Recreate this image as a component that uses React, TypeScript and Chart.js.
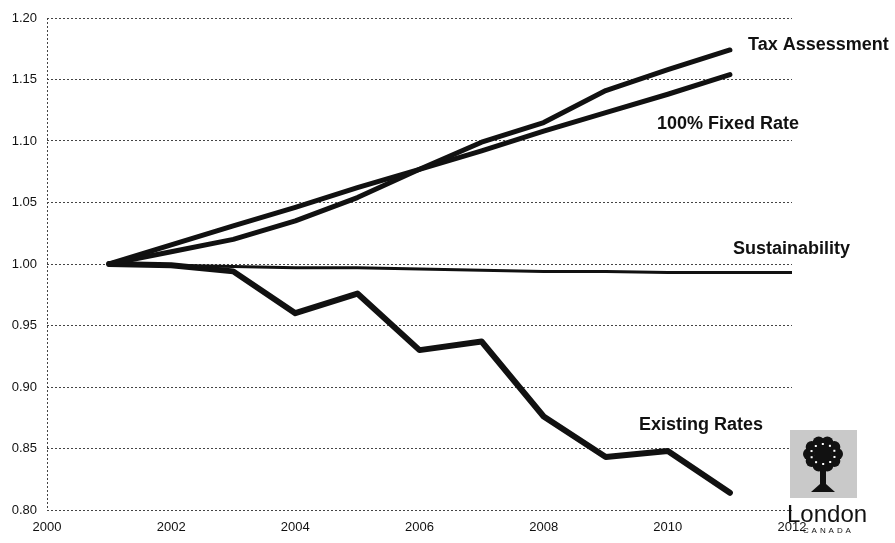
import React, { useEffect, useRef } from "react";
import { Chart, registerables } from "chart.js";

Chart.register(...registerables);

const years = [2001, 2002, 2003, 2004, 2005, 2006, 2007, 2008, 2009, 2010, 2011];
const taxAssessment = [1.0, 1.01, 1.02, 1.035, 1.054, 1.077, 1.099, 1.115, 1.141, 1.158, 1.174];
const fixedRate = [1.0, 1.0155, 1.031, 1.046, 1.062, 1.077, 1.092, 1.108, 1.123, 1.138, 1.154];
const existingRates = [1.0, 0.999, 0.994, 0.96, 0.976, 0.93, 0.937, 0.876, 0.843, 0.848, 0.814];
const sustainYears = [2001, 2002, 2003, 2004, 2005, 2006, 2007, 2008, 2009, 2010, 2011, 2012];
const sustainability = [1.0, 0.999, 0.998, 0.997, 0.997, 0.996, 0.995, 0.994, 0.994, 0.993, 0.993, 0.993];

const seriesLabels = ["Tax Assessment", "100% Fixed Rate", "Sustainability", "Existing Rates"];

const pts = (xs: number[], ys: number[]) => xs.map((x, i) => ({ x, y: ys[i] }));

const annotations = {
  id: "annotations",
  beforeDatasetsDraw(chart: any) {
    const ctx = chart.ctx;
    const a = chart.chartArea;
    ctx.save();
    ctx.strokeStyle = "#444";
    ctx.lineWidth = 1;
    ctx.setLineDash([2, 2]);
    ctx.beginPath();
    ctx.moveTo(a.left + 0.5, a.top);
    ctx.lineTo(a.left + 0.5, a.bottom);
    ctx.stroke();
    ctx.restore();
  },
  afterDraw(chart: any) {
    const ctx = chart.ctx;
    ctx.save();
    ctx.fillStyle = "#111";
    ctx.font = "bold 18px 'Liberation Sans', Arial, sans-serif";
    ctx.textBaseline = "middle";
    ctx.textAlign = "left";
    ctx.fillText(seriesLabels[0], 748, 45);
    ctx.fillText(seriesLabels[1], 657, 124);
    ctx.fillText(seriesLabels[2], 733, 249);
    ctx.fillText(seriesLabels[3], 639, 425);

    // logo
    ctx.fillStyle = "#c9c9c9";
    ctx.fillRect(790, 430, 67, 68);
    ctx.fillStyle = "#111";
    const cx = 823, cy = 454;
    for (let k = 0; k < 10; k++) {
      const ang = (k / 10) * Math.PI * 2;
      ctx.beginPath();
      ctx.arc(cx + Math.cos(ang) * 14, cy + Math.sin(ang) * 12, 6, 0, Math.PI * 2);
      ctx.fill();
    }
    ctx.beginPath();
    ctx.arc(cx, cy, 9, 0, Math.PI * 2);
    ctx.fill();
    ctx.fillRect(cx - 3, cy + 8, 6, 28);
    ctx.beginPath();
    ctx.moveTo(cx - 12, cy + 38);
    ctx.lineTo(cx + 12, cy + 38);
    ctx.lineTo(cx + 3, cy + 30);
    ctx.lineTo(cx - 3, cy + 30);
    ctx.closePath();
    ctx.fill();
    ctx.fillStyle = "#fff";
    for (let k = 0; k < 10; k++) {
      const ang = (k / 10) * Math.PI * 2 + 0.3;
      ctx.fillRect(cx + Math.cos(ang) * 12 - 1, cy + Math.sin(ang) * 10 - 1, 2, 2);
    }
    ctx.fillStyle = "#111";
    ctx.font = "24px 'Liberation Sans', Arial, sans-serif";
    ctx.textBaseline = "alphabetic";
    ctx.fillText("London", 787, 522);
    ctx.font = "8px 'Liberation Sans', Arial, sans-serif";
    const letters = "CANADA";
    for (let i = 0; i < letters.length; i++) {
      ctx.fillText(letters[i], 803 + i * 8.5, 533);
    }
    ctx.restore();
  },
};

export default function App() {
  const ref = useRef<HTMLCanvasElement | null>(null);
  useEffect(() => {
    if (!ref.current) return;
    const lineStyle = {
      borderColor: "#111",
      pointRadius: 0,
      tension: 0,
      borderCapStyle: "round" as const,
      borderJoinStyle: "round" as const,
    };
    const chart = new Chart(ref.current, {
      type: "line",
      data: {
        datasets: [
          { label: seriesLabels[0], data: pts(years, taxAssessment), borderWidth: 5, ...lineStyle },
          { label: seriesLabels[1], data: pts(years, fixedRate), borderWidth: 5, ...lineStyle },
          { label: seriesLabels[2], data: pts(sustainYears, sustainability), borderWidth: 3, ...lineStyle },
          { label: seriesLabels[3], data: pts(years, existingRates), borderWidth: 6, ...lineStyle },
        ],
      },
      options: {
        animation: false,
        responsive: false,
        layout: { padding: { left: 0, right: 103, top: 18, bottom: 0 } },
        plugins: { legend: { display: false }, tooltip: { enabled: false } },
        scales: {
          x: {
            type: "linear",
            min: 2000,
            max: 2012,
            ticks: {
              stepSize: 2,
              callback: (v: any) => String(v),
              color: "#111",
              font: { family: "'Liberation Sans', Arial, sans-serif", size: 13 },
              padding: 2,
              maxRotation: 0,
            },
            grid: { display: false },
            border: { display: false },
            afterFit: (s: any) => { s.height = 33; },
          },
          y: {
            min: 0.8,
            max: 1.2,
            ticks: {
              stepSize: 0.05,
              callback: (v: any) => Number(v).toFixed(2),
              color: "#111",
              font: { family: "'Liberation Sans', Arial, sans-serif", size: 13 },
              padding: 10,
            },
            grid: { color: "#444", lineWidth: 1, drawTicks: false },
            border: { display: false, dash: [2, 2] },
            afterFit: (s: any) => { s.width = 47; },
          },
        },
      },
      plugins: [annotations],
    });
    return () => chart.destroy();
  }, []);
  return (
    <div style={{ position: "fixed", left: 0, top: 0, width: 895, height: 543, background: "#fff" }}>
      <canvas ref={ref} width={895} height={543} />
    </div>
  );
}
